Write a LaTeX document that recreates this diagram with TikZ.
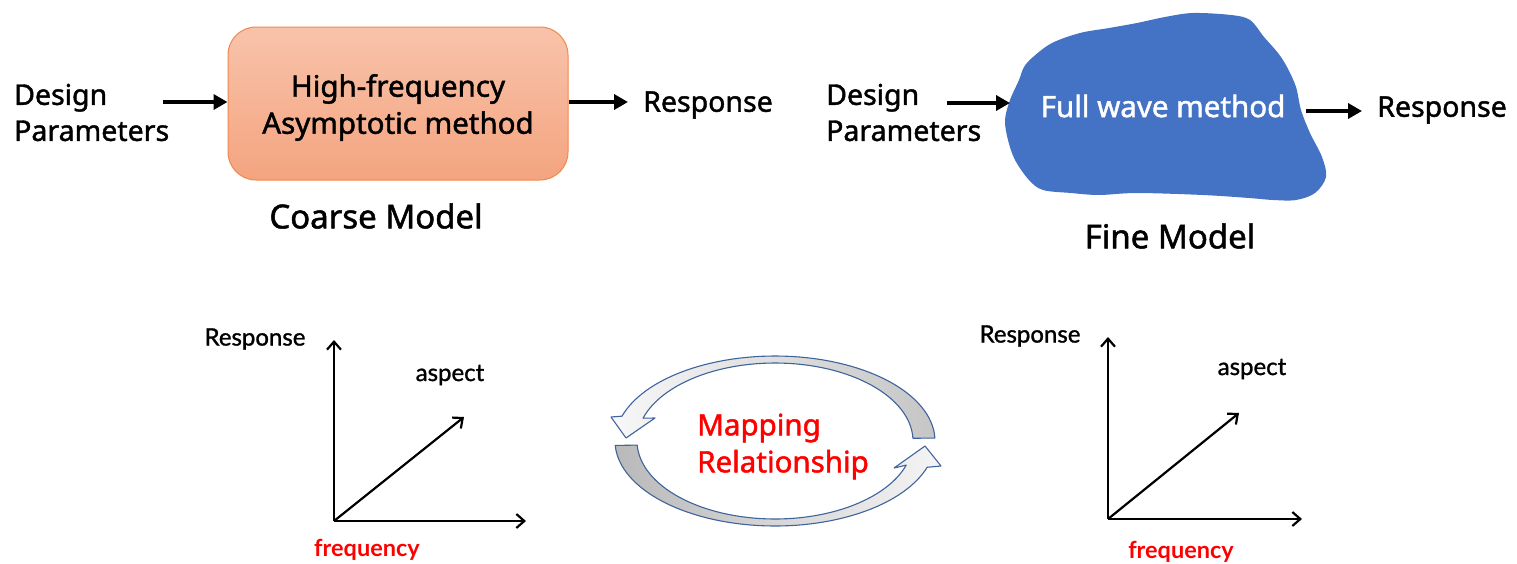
\documentclass[tikz,border=0pt]{standalone}
\usepackage{fontspec}
\setmainfont{Noto Sans}[BoldFont={Noto Sans}, BoldFeatures={FakeBold=1.5}]
\newfontfamily\axisfont{Lato}[BoldFont={Lato}, BoldFeatures={FakeBold=1.2}]
\newfontfamily\axisboldfont{Lato Bold}
\usetikzlibrary{arrows.meta}
\definecolor{blobblue}{HTML}{4472C4}
\definecolor{boxtop}{HTML}{F8C3AB}
\definecolor{boxbot}{HTML}{F4A47F}
\definecolor{boxline}{HTML}{F0894C}
\definecolor{ringline}{HTML}{3F639C}
\definecolor{mapred}{HTML}{FF0000}

\tikzset{
  lbl/.style={font=\bfseries\fontsize{28.5}{36}\selectfont, inner sep=0pt, align=left},
  boxtxt/.style={font=\bfseries\fontsize{29.5}{37}\selectfont, inner sep=0pt, align=center},
  title/.style={font=\bfseries\fontsize{33}{38}\selectfont, inner sep=0pt},
  axlbl/.style={font=\axisfont\bfseries\fontsize{24}{26}\selectfont, inner sep=0pt},
  freqlbl/.style={font=\axisboldfont\fontsize{23.5}{26}\selectfont, inner sep=0pt, text=mapred},
  bigarrow/.style={line width=4pt, -{Triangle[length=14pt,width=15pt]}},
  axisarrow/.style={line width=2.2pt, -{Straight Barb[length=8pt,width=14pt]}},
  coarsebox/.style={rounded corners=28pt, minimum width=340pt, minimum height=153pt,
    top color=boxtop, bottom color=boxbot, draw=boxline, line width=1pt},
  ring/.style={draw=ringline, line width=1.1pt, line join=round}
}

\begin{document}
\begin{tikzpicture}[x=1pt,y=-1pt]
\useasboundingbox (0,0) rectangle (1517,563);

% ---- coarse model ----
\node[lbl, anchor=west] (cdp) at (14,112.5) {Design\\Parameters};
\node[coarsebox] (coarse) at (398,103.5) {};
\node[boxtxt] (coarsetxt) at (398,107.5) {High-frequency\\Asymptotic method};
\node[lbl, anchor=west] (cresp) at (643,105) {Response};
\node[title] (ctitle) at (376,216) {Coarse Model};
\coordinate (cin) at (163,102);
\coordinate (cout) at (628,102);
\draw[bigarrow] (cin) -- (coarse.west |- cin);
\draw[bigarrow] (coarse.east |- cout) -- (cout);

% ---- fine model ----
\node[lbl, anchor=west] (fdp) at (826,112.5) {Design\\Parameters};
\fill[blobblue] plot[smooth cycle, tension=0.55] coordinates {
  (1033,57) (1052,43) (1080,33) (1109,28) (1137,23) (1165,17) (1193,13)
  (1231,15) (1250,20) (1264,37) (1278,53) (1287,67) (1296,87) (1301,110)
  (1310,133) (1322,157) (1326,177) (1315,193) (1296,200) (1273,200)
  (1249,198) (1203,195) (1137,193) (1099,195) (1071,193) (1043,190)
  (1029,180) (1015,160) (1008,140) (1005,120) (1010,100) (1019,80) (1024,67)};
\node[lbl, text=white, font=\bfseries\fontsize{29.5}{36}\selectfont] (fine) at (1163,106) {Full wave method};
\node[lbl, anchor=west] (fresp) at (1377,110) {Response};
\node[title] (ftitle) at (1170,236) {Fine Model};
\coordinate (fin0) at (947,103);
\coordinate (fin1) at (1010,103);
\coordinate (fout0) at (1306,111);
\coordinate (fout1) at (1362,111);
\draw[bigarrow] (fin0) -- (fin1);
\draw[bigarrow] (fout0) -- (fout1);

% ---- left axes ----
\coordinate (lo) at (334,521);
\coordinate (ly) at (334,340);
\coordinate (lx) at (526,521);
\coordinate (ld) at (464,417);
\draw[axisarrow] (lo) -- (ly);
\draw[axisarrow] (lo) -- (lx);
\draw[axisarrow] (lo) -- (ld);
\node[axlbl] (lresp) at (255,339) {Response};
\node[axlbl] (lasp) at (450,375) {aspect};
\node[freqlbl] (lfreq) at (367,550) {frequency};

% ---- right axes ----
\coordinate (ro) at (1108,519);
\coordinate (ry) at (1108,337);
\coordinate (rx) at (1302,519);
\coordinate (rd) at (1239,413);
\draw[axisarrow] (ro) -- (ry);
\draw[axisarrow] (ro) -- (rx);
\draw[axisarrow] (ro) -- (rd);
\node[axlbl] (rresp) at (1030,336) {Response};
\node[axlbl] (rasp) at (1252,369) {aspect};
\node[freqlbl] (rfreq) at (1181,552) {frequency};

% ---- mapping ring: two curved arrows ----
% upper arrow, tail on the right, head at the left
\path[ring, shading=axis, left color=gray!6, right color=gray!45]
  plot[domain=2:163, samples=60] ({775+160*cos(\x)},{441-85*sin(\x)})
  -- (611,417) -- (626,438) -- (655,418)
  -- plot[domain=163:2, samples=60] ({775+138*cos(\x)},{441-78*sin(\x)})
  -- cycle;
% lower arrow, tail on the left, head at the right
\path[ring, shading=axis, left color=gray!55, right color=gray!8]
  plot[domain=183:342, samples=60] ({775+160*cos(\x)},{441-85*sin(\x)})
  -- (941,466) -- (925,446) -- (894,468)
  -- plot[domain=342:183, samples=60] ({775+138*cos(\x)},{441-78*sin(\x)})
  -- cycle;
\node[lbl, text=mapred, anchor=west, font=\bfseries\fontsize{29.5}{37}\selectfont] (map) at (697,446.5) {Mapping\\Relationship};
\end{tikzpicture}
\end{document}
